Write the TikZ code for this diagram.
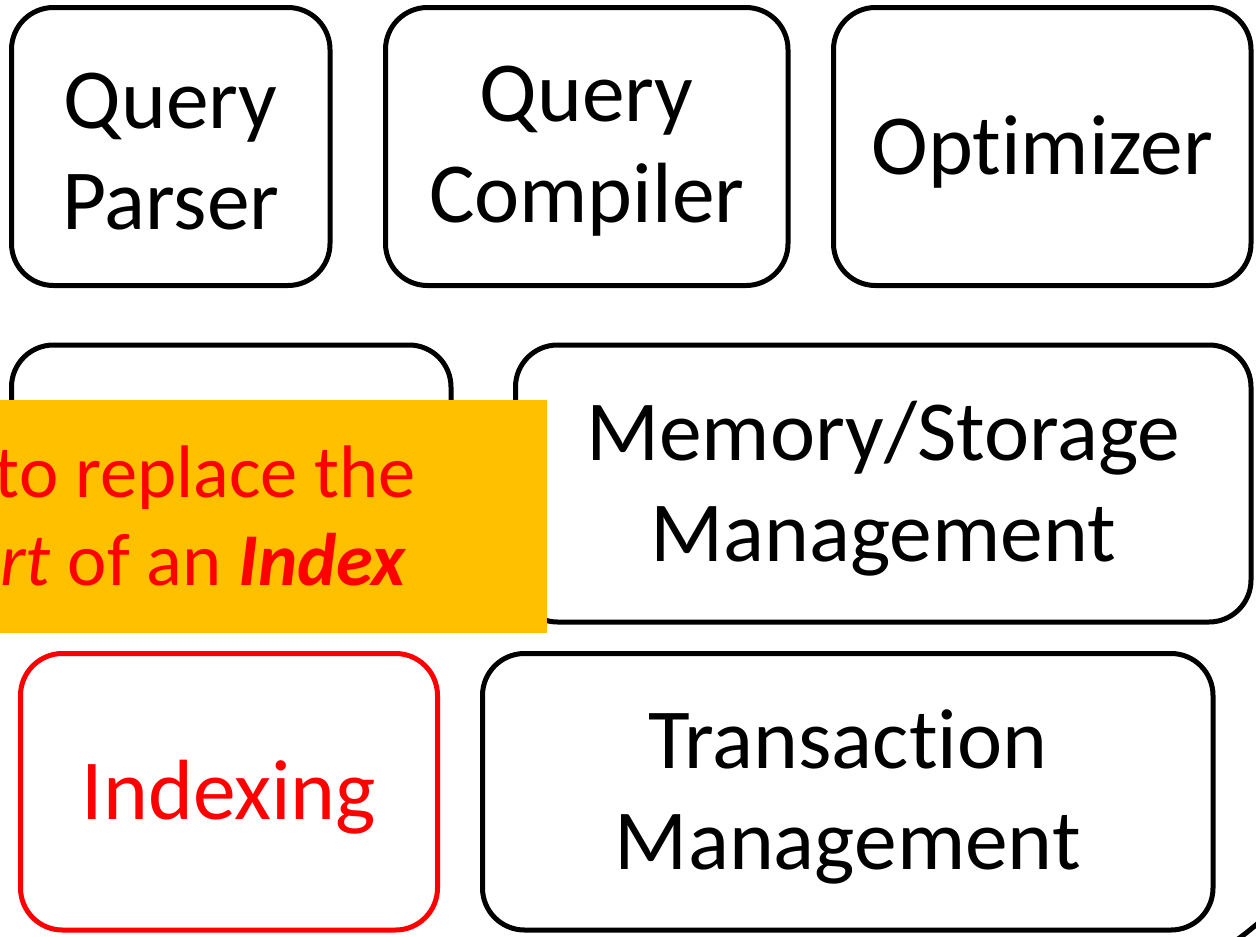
\documentclass[tikz,border=0pt]{standalone}
\usepackage{fontspec}
\setmainfont{Carlito}[Ligatures=NoCommon]
\definecolor{hlorange}{HTML}{FFC000}
\definecolor{hlred}{HTML}{FF0000}
\begin{document}
\begin{tikzpicture}[x=1pt,y=-1pt,
  box/.style={draw=black, line width=5pt, rounded corners=42pt, inner sep=0pt},
  redbox/.style={box, draw=hlred},
  lbl/.style={font=\fontsize{85.5}{101}\selectfont, align=center, inner sep=0pt, yshift=-5pt},
  redlbl/.style={lbl, text=hlred},
  note/.style={text=hlred, font=\fontsize{74.5}{88}\selectfont, inner sep=0pt}]
\useasboundingbox (0,0) rectangle (1256,937);
\clip (0,0) rectangle (1256,937);
% row 1
\node[box, minimum width=318.5pt, minimum height=278pt, label={[lbl]center:{Query\\Parser}}] (qp) at (170.75,146.5) {};
\node[box, minimum width=402.5pt, minimum height=278pt, label={[lbl]center:{Query\\Compiler}}] (qc) at (586.75,146.5) {};
\node[box, minimum width=417.5pt, minimum height=278pt, label={[lbl]center:{Optimizer}}] (opt) at (1042.25,146.5) {};
% row 2
\node[box, minimum width=439.5pt, minimum height=277pt] (hid) at (231.25,483.5) {};
\node[box, minimum width=735.5pt, minimum height=277pt, label={[lbl]center:{Memory/Storage\\Management}}] (mem) at (883.25,483.5) {};
% row 3
\node[redbox, minimum width=417pt, minimum height=276.5pt, label={[redlbl]center:{Indexing}}] (idx) at (229,791.75) {};
\node[box, minimum width=730.5pt, minimum height=276.5pt, label={[lbl]center:{Transaction\\Management}}] (txn) at (847.75,791.75) {};
% outer frame fragment
\coordinate (fa) at (1234,942);
\coordinate (fb) at (1262,920);
\draw[line width=5pt] (fa) .. controls (1245,934) .. (fb);
% orange callout
\fill[hlorange] (0,400) rectangle (547,633);
\node[note, anchor=base east] (n1) at (416,497) {to replace the};
\node[note, anchor=base east] (n2) at (407,585) {\textit{rt} of an \textbf{\textit{Index}}};
\end{tikzpicture}
\end{document}
